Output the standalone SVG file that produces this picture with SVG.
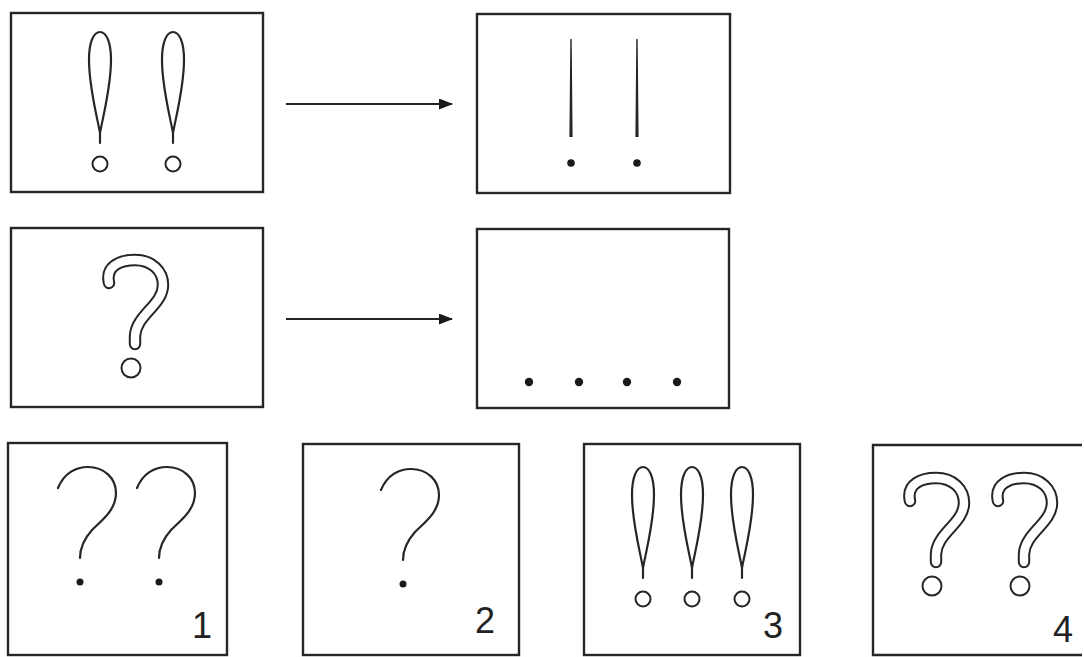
<svg xmlns="http://www.w3.org/2000/svg" width="1084" height="657" viewBox="0 0 1084 657">
<style>
.box{fill:none;stroke:#262626;stroke-width:2.4}
.ln{fill:none;stroke:#262626;stroke-width:2.2;stroke-linecap:round;stroke-linejoin:round}
.ring{fill:none;stroke:#262626;stroke-width:2}
.dot{fill:#1a1a1a}
.qo{fill:none;stroke:#262626;stroke-width:12.4;stroke-linecap:round;stroke-linejoin:round}
.qi{fill:none;stroke:#ffffff;stroke-width:8.4;stroke-linecap:round;stroke-linejoin:round}
.num{font-family:"Liberation Sans",Arial,sans-serif;font-size:36px;fill:#222;text-anchor:middle}
.conn{fill:none;stroke:#262626;stroke-width:2.2}
</style>
<defs>
<marker id="ah" viewBox="0 0 14 11" refX="13" refY="5.5" markerWidth="14" markerHeight="11" markerUnits="userSpaceOnUse" orient="auto">
<path d="M0,0 L14,5.5 L0,11 Z" fill="#1a1a1a"/>
</marker>
<g id="excl">
<path class="ln" d="M0,143 L0,133 C-4,112 -11,86 -11,60 C-11,41 -6,32 0,32 C6,32 11,41 11,60 C11,86 4,112 0,133"/>
<circle class="ring" cx="0" cy="164" r="7.5"/>
</g>
<g id="qthin">
<path class="ln" d="M58,488 C64,473 76,467 88,467 C104,467 116,478 116,493 C116,510 102,520 92,530 C84,539 80,548 80,558"/>
<circle class="dot" cx="80" cy="582" r="3.5"/>
</g>
<g id="qfat">
<path class="qo" d="M109,283 C105,265 122,260 135,260 C152,260 163,271 163,285 C163,305 136,315 135,336 L135,344"/>
<path class="qi" d="M109,283 C105,265 122,260 135,260 C152,260 163,271 163,285 C163,305 136,315 135,336 L135,344"/>
<circle class="ring" cx="131" cy="368" r="9.5"/>
</g>
</defs>
<rect width="1084" height="657" fill="#ffffff"/>

<g id="connectors">
<line class="conn" x1="286" y1="104" x2="452" y2="104" marker-end="url(#ah)"/>
<line class="conn" x1="286" y1="319" x2="452" y2="319" marker-end="url(#ah)"/>
</g>

<g id="box-a">
<rect class="box" x="11" y="13" width="252" height="179"/>
<use href="#excl" x="100" y="0"/>
<use href="#excl" x="173" y="0"/>
</g>

<g id="box-b">
<rect class="box" x="477" y="14" width="253" height="179"/>
<path d="M570.3,39 L571.7,39 L572.6,137 L569.4,137 Z" fill="#262626"/>
<path d="M636.3,39 L637.7,39 L638.6,137 L635.4,137 Z" fill="#262626"/>
<circle class="dot" cx="571" cy="163" r="3.8"/>
<circle class="dot" cx="637" cy="163" r="3.8"/>
</g>

<g id="box-c">
<rect class="box" x="11" y="228" width="252" height="179"/>
<use href="#qfat"/>
</g>

<g id="box-d">
<rect class="box" x="477" y="229" width="252" height="179"/>
<circle class="dot" cx="529" cy="382" r="4.2"/>
<circle class="dot" cx="579" cy="382" r="4.2"/>
<circle class="dot" cx="627" cy="382" r="4.2"/>
<circle class="dot" cx="677" cy="382" r="4.2"/>
</g>

<g id="option-1">
<rect class="box" x="8" y="443" width="219" height="212"/>
<use href="#qthin"/>
<use href="#qthin" x="79" y="0"/>
<text class="num" x="202" y="638">1</text>
</g>

<g id="option-2">
<rect class="box" x="303" y="444" width="216" height="211"/>
<use href="#qthin" x="323" y="2"/>
<text class="num" x="485" y="633">2</text>
</g>

<g id="option-3">
<rect class="box" x="584" y="444" width="216" height="211"/>
<use href="#excl" x="643" y="435"/>
<use href="#excl" x="692" y="435"/>
<use href="#excl" x="742" y="435"/>
<text class="num" x="773" y="638">3</text>
</g>

<g id="option-4">
<path class="box" d="M1082,445 L873,445 L873,655 L1082,655"/>
<use href="#qfat" x="801" y="218"/>
<use href="#qfat" x="889" y="218"/>
<text class="num" x="1063" y="642">4</text>
</g>
</svg>
